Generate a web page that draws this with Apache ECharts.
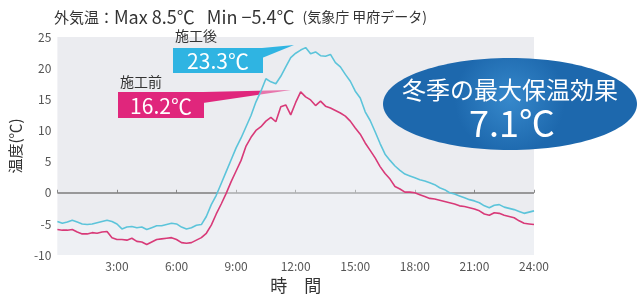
<!DOCTYPE html>
<html>
<head>
<meta charset="utf-8">
<script src="https://cdn.jsdelivr.net/npm/echarts@6/dist/echarts.min.js"></script>
<style>
  html, body { margin: 0; padding: 0; background: #fff; }
  #chart { width: 644px; height: 299px; }
</style>
</head>
<body>
<div id="chart"></div>
<script>
// time of day (hours), every 15 min
const hours = [
  0, 0.25, 0.5, 0.75, 1, 1.25, 1.5, 1.75, 2, 2.25,
  2.5, 2.75, 3, 3.25, 3.5, 3.75, 4, 4.25, 4.5, 4.75,
  5, 5.25, 5.5, 5.75, 6, 6.25, 6.5, 6.75, 7, 7.25,
  7.5, 7.75, 8, 8.25, 8.5, 8.75, 9, 9.25, 9.5, 9.75,
  10, 10.25, 10.5, 10.75, 11, 11.25, 11.5, 11.75, 12, 12.25,
  12.5, 12.75, 13, 13.25, 13.5, 13.75, 14, 14.25, 14.5, 14.75,
  15, 15.25, 15.5, 15.75, 16, 16.25, 16.5, 16.75, 17, 17.25,
  17.5, 17.75, 18, 18.25, 18.5, 18.75, 19, 19.25, 19.5, 19.75,
  20, 20.25, 20.5, 20.75, 21, 21.25, 21.5, 21.75, 22, 22.25,
  22.5, 22.75, 23, 23.25, 23.5, 23.75, 24
];
// 施工後
const afterTemps = [
  -4.6, -4.9, -4.7, -4.4, -4.7, -5.0, -5.1, -5.0, -4.8, -4.6,
  -4.4, -4.6, -5.0, -5.8, -5.5, -5.4, -5.6, -5.5, -5.9, -5.6,
  -5.3, -5.3, -5.1, -4.9, -5.0, -5.5, -5.8, -5.6, -5.2, -5.1,
  -3.8, -1.9, -0.4, 1.5, 3.4, 5.3, 7.2, 8.8, 10.6, 12.4,
  14.6, 16.3, 18.3, 17.8, 17.5, 18.7, 20.2, 21.7, 22.4, 22.9,
  23.3, 22.3, 22.6, 22.0, 21.9, 22.2, 20.9, 20.2, 19.0, 17.9,
  16.3, 15.2, 13.0, 11.6, 9.8, 7.9, 6.2, 5.2, 4.3, 3.6,
  3.0, 2.7, 2.4, 2.1, 1.9, 1.6, 1.3, 0.8, 0.5, 0.0,
  -0.2, -0.5, -0.8, -1.1, -1.3, -1.6, -2.1, -2.4, -2.0, -1.9,
  -2.3, -2.5, -2.7, -3.0, -3.3, -3.1, -2.9
];
// 施工前
const beforeTemps = [
  -5.9, -6.0, -6.0, -5.9, -6.3, -6.6, -6.6, -6.4, -6.5, -6.3,
  -6.2, -7.2, -7.5, -7.5, -7.6, -7.3, -7.8, -7.9, -8.3, -7.9,
  -7.5, -7.4, -7.3, -7.2, -7.5, -8.0, -8.1, -8.0, -7.6, -7.2,
  -6.5, -5.2, -3.4, -1.8, -0.1, 1.8, 3.5, 5.2, 7.5, 8.9,
  10.0, 10.6, 11.5, 12.1, 11.4, 13.8, 14.1, 12.5, 14.5, 16.2,
  15.4, 14.9, 14.0, 14.7, 13.9, 13.6, 13.2, 12.8, 12.3, 11.5,
  10.4, 9.4, 8.0, 6.8, 5.6, 4.2, 3.1, 2.2, 1.0, 0.6,
  0.1, 0.1, 0.0, -0.3, -0.6, -0.9, -1.0, -1.2, -1.4, -1.6,
  -1.8, -2.1, -2.2, -2.4, -2.6, -2.9, -3.4, -3.6, -3.2, -3.3,
  -3.6, -3.8, -4.0, -4.5, -4.9, -5.0, -5.1
];
const xTickLabels = ['', '3:00', '6:00', '9:00', '12:00', '15:00', '18:00', '21:00', '24:00'];

const FONT = '"Noto Sans CJK JP", "Noto Sans", sans-serif';

const chart = echarts.init(document.getElementById('chart'));

chart.setOption({
  animation: false,
  backgroundColor: '#fff',
  textStyle: { fontFamily: FONT },
  title: {
    left: 49,
    top: 3,
    text: '{c|外気温：}{a|Max 8.5℃   Min −5.4℃  }{b|(気象庁 甲府データ)}',
    textStyle: {
      fontWeight: 'normal',
      rich: {
        c: { fontSize: 15, color: '#333', fontFamily: FONT, fontWeight: 'normal' },
        a: { fontSize: 18, color: '#333', fontFamily: FONT, fontWeight: 'normal' },
        b: { fontSize: 14, color: '#333', fontFamily: FONT, fontWeight: 'normal' }
      }
    }
  },
  grid: {
    left: 55, right: 110, top: 37, bottom: 42,
    show: true, backgroundColor: '#ebecf0', borderWidth: 0
  },
  xAxis: {
    type: 'value',
    min: 0, max: 24, interval: 3,
    name: '時　間',
    nameLocation: 'middle',
    nameGap: 21,
    nameTextStyle: { fontSize: 17, color: '#333', fontFamily: FONT },
    axisLine: { show: false },
    axisTick: { show: true, inside: true, length: 3, lineStyle: { color: '#888' } },
    splitLine: { show: false },
    axisLabel: {
      fontSize: 12, color: '#555', margin: 5,
      formatter: v => xTickLabels[Math.round(v / 3)]
    }
  },
  yAxis: {
    type: 'value',
    min: -10, max: 25, interval: 5,
    name: '温度(℃)',
    nameLocation: 'middle',
    nameGap: 28,
    nameTextStyle: { fontSize: 15, color: '#333', fontFamily: FONT },
    axisLine: { show: false },
    axisTick: { show: false },
    splitLine: { show: false },
    axisLabel: { fontSize: 12, color: '#555', margin: 6 }
  },
  series: [
    {
      name: '施工後',
      type: 'line',
      data: hours.map((h, i) => [h, afterTemps[i]]),
      showSymbol: false,
      lineStyle: { color: '#5cc4da', width: 1.6 },
      areaStyle: { color: 'rgba(242,247,250,0.55)', origin: 'start' },
      z: 3,
      markLine: {
        silent: true,
        symbol: 'none',
        label: { show: false },
        lineStyle: { color: '#7d7d7d', width: 1.5, type: 'solid' },
        data: [{ yAxis: 0 }],
        z: 1
      }
    },
    {
      name: '施工前',
      type: 'line',
      data: hours.map((h, i) => [h, beforeTemps[i]]),
      showSymbol: false,
      lineStyle: { color: '#d83a78', width: 1.6 },
      z: 4
    }
  ],
  graphic: [
    // 施工後 callout
    { type: 'text', left: 175, top: 29, style: { text: '施工後', fill: '#333', font: '14px ' + FONT } },
    { type: 'polygon', shape: { points: [[262, 48], [294, 45], [262, 58]] }, style: { fill: '#2fb4e2' } },
    { type: 'rect', shape: { x: 173, y: 48, width: 90, height: 25 }, style: { fill: '#2fb4e2' } },
    { type: 'text', x: 218, y: 61, style: { text: '23.3℃', fill: '#fff', font: '21px ' + FONT, align: 'center', verticalAlign: 'middle' } },
    // 施工前 callout
    { type: 'text', left: 120, top: 75, style: { text: '施工前', fill: '#333', font: '14px ' + FONT } },
    { type: 'polygon', shape: { points: [[203, 92], [291, 90], [203, 103]] }, style: { fill: '#e0267c' } },
    { type: 'rect', shape: { x: 118, y: 92, width: 86, height: 26 }, style: { fill: '#e0267c' } },
    { type: 'text', x: 161, y: 106, style: { text: '16.2℃', fill: '#fff', font: '21px ' + FONT, align: 'center', verticalAlign: 'middle' } },
    // 保温効果 ellipse
    {
      type: 'ellipse',
      shape: { cx: 510, cy: 104, rx: 127, ry: 46 },
      style: {
        fill: {
          type: 'radial', x: 0.5, y: 0.45, r: 0.6,
          colorStops: [{ offset: 0, color: '#3688cb' }, { offset: 1, color: '#1d68ad' }]
        }
      }
    },
    { type: 'text', x: 510, y: 90, style: { text: '冬季の最大保温効果', fill: '#fff', font: '24px ' + FONT, align: 'center', verticalAlign: 'middle' } },
    { type: 'text', x: 512, y: 123, style: { text: '7.1℃', fill: '#fff', font: '36px ' + FONT, align: 'center', verticalAlign: 'middle' } }
  ]
});
</script>
</body>
</html>
